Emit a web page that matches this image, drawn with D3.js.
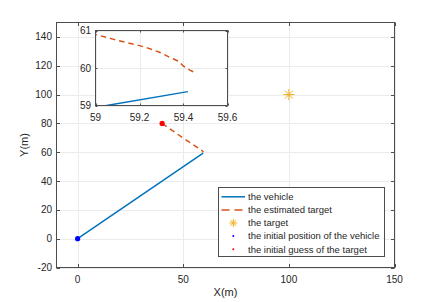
<!DOCTYPE html>
<html>
<head>
<meta charset="utf-8">
<script src="https://cdn.jsdelivr.net/npm/d3@7"></script>
<style>
  html, body { margin: 0; padding: 0; background: #fff; }
  svg text { font-family: "Liberation Sans", Arial, Helvetica, sans-serif; fill: #262626; }
</style>
</head>
<body>
<div id="chart"></div>
<script>
// data
const vehicleX = [0, 59.42];
const vehicleY = [0, 59.37];
const estX = [40, 49.5, 58.9, 59.079, 59.132, 59.192, 59.238, 59.291, 59.336, 59.382, 59.397, 59.427, 59.458];
const estY = [80, 70.3, 61.05, 60.77, 60.69, 60.61, 60.53, 60.42, 60.29, 60.17, 60.06, 59.95, 59.86];
const targetPos = [100, 100];
const vehicleStart = [0, 0];
const initialGuess = [40, 80];

const xTicks = [0, 50, 100, 150];
const yTicks = [-20, 0, 20, 40, 60, 80, 100, 120, 140];
const insetXTicks = [59, 59.2, 59.4, 59.6];
const insetYTicks = [59, 60, 61];
const legendLabels = ["the vehicle", "the estimated target", "the target",
  "the initial position of the vehicle", "the initial guess of the target"];

const W = 436, H = 302;
const blue = "#0072BD", orange = "#D95319", yellow = "#EDB120";
const gridCol = "#ebebeb", axCol = "#4d4d4d";

const svg = d3.select("#chart").append("svg").attr("width", W).attr("height", H);

// main axes
const x = d3.scaleLinear().domain([-10, 150]).range([56.5, 394.5]);
const y = d3.scaleLinear().domain([-20, 150]).range([267.5, 22.5]);

svg.append("g").selectAll("line").data(xTicks).join("line")
  .attr("x1", d => Math.round(x(d)) + 0.5).attr("x2", d => Math.round(x(d)) + 0.5)
  .attr("y1", y.range()[1]).attr("y2", y.range()[0])
  .attr("stroke", gridCol);
svg.append("g").selectAll("line").data(yTicks).join("line")
  .attr("y1", d => Math.round(y(d)) + 0.5).attr("y2", d => Math.round(y(d)) + 0.5)
  .attr("x1", x.range()[0]).attr("x2", x.range()[1])
  .attr("stroke", gridCol);

function drawAxes(g, sx, sy, xt, yt, fmt, tick) {
  const [x0, x1] = sx.range(), [y0, y1] = sy.range();
  g.append("rect").attr("x", x0).attr("y", y1).attr("width", x1 - x0).attr("height", y0 - y1)
    .attr("fill", "none").attr("stroke", axCol).attr("stroke-width", 1);
  xt.forEach(t => {
    const px = Math.round(sx(t)) + 0.5;
    g.append("line").attr("x1", px).attr("x2", px).attr("y1", y0).attr("y2", y0 - tick).attr("stroke", axCol);
    g.append("line").attr("x1", px).attr("x2", px).attr("y1", y1).attr("y2", y1 + tick).attr("stroke", axCol);
    g.append("text").attr("x", sx(t)).attr("y", y0 + 15.5).attr("text-anchor", "middle")
      .attr("font-size", "10px").text(fmt(t));
  });
  yt.forEach(t => {
    const py = Math.round(sy(t)) + 0.5;
    g.append("line").attr("y1", py).attr("y2", py).attr("x1", x0).attr("x2", x0 + tick).attr("stroke", axCol);
    g.append("line").attr("y1", py).attr("y2", py).attr("x1", x1).attr("x2", x1 - tick).attr("stroke", axCol);
    g.append("text").attr("x", x0 - 4.5).attr("y", sy(t)).attr("dy", "0.35em").attr("text-anchor", "end")
      .attr("font-size", "10px").text(fmt(t));
  });
}

const line = (sx, sy) => d3.line().x(d => sx(d[0])).y(d => sy(d[1]));
const vehiclePts = vehicleX.map((v, i) => [v, vehicleY[i]]);
const estPts = estX.map((v, i) => [v, estY[i]]);

function drawMarks(g, sx, sy, withMarkers) {
  g.append("path").attr("d", line(sx, sy)(vehiclePts)).attr("fill", "none")
    .attr("stroke", blue).attr("stroke-width", 1.5);
  g.append("path").attr("d", line(sx, sy)(estPts)).attr("fill", "none")
    .attr("stroke", orange).attr("stroke-width", 1.5).attr("stroke-dasharray", "5.5,4");
  if (!withMarkers) return;
  drawStar(g, sx(targetPos[0]), sy(targetPos[1]), 5.5);
  g.append("circle").attr("cx", sx(vehicleStart[0])).attr("cy", sy(vehicleStart[1])).attr("r", 2.6).attr("fill", "#0000ff");
  g.append("circle").attr("cx", sx(initialGuess[0])).attr("cy", sy(initialGuess[1])).attr("r", 2.6).attr("fill", "#ff0000");
}

function drawStar(g, cx, cy, r) {
  const d = r * 0.72;
  const segs = [[-r, 0, r, 0], [0, -r, 0, r], [-d, -d, d, d], [-d, d, d, -d]];
  g.append("g").selectAll("line").data(segs).join("line")
    .attr("x1", s => cx + s[0]).attr("y1", s => cy + s[1]).attr("x2", s => cx + s[2]).attr("y2", s => cy + s[3])
    .attr("stroke", yellow).attr("stroke-width", 1);
}

const clipMain = svg.append("clipPath").attr("id", "clipMain");
clipMain.append("rect").attr("x", x.range()[0]).attr("y", y.range()[1])
  .attr("width", x.range()[1] - x.range()[0]).attr("height", y.range()[0] - y.range()[1]);
drawMarks(svg.append("g").attr("clip-path", "url(#clipMain)"), x, y, true);
drawAxes(svg.append("g"), x, y, xTicks, yTicks, d => String(d), 3.5);

svg.append("text").attr("x", (x.range()[0] + x.range()[1]) / 2).attr("y", 296)
  .attr("text-anchor", "middle").attr("font-size", "11px").text("X(m)");
svg.append("text").attr("transform", `translate(28,${(y.range()[0] + y.range()[1]) / 2}) rotate(-90)`)
  .attr("text-anchor", "middle").attr("font-size", "11px").text("Y(m)");

// inset zoom
const ix = d3.scaleLinear().domain([59, 59.6]).range([95.5, 227.5]);
const iy = d3.scaleLinear().domain([59, 61]).range([105.5, 30.5]);
const inset = svg.append("g");
inset.append("rect").attr("x", ix.range()[0]).attr("y", iy.range()[1])
  .attr("width", ix.range()[1] - ix.range()[0]).attr("height", iy.range()[0] - iy.range()[1]).attr("fill", "#fff");
inset.append("g").selectAll("line").data(insetXTicks).join("line")
  .attr("x1", d => Math.round(ix(d)) + 0.5).attr("x2", d => Math.round(ix(d)) + 0.5)
  .attr("y1", iy.range()[1]).attr("y2", iy.range()[0]).attr("stroke", gridCol);
inset.append("g").selectAll("line").data(insetYTicks).join("line")
  .attr("y1", d => Math.round(iy(d)) + 0.5).attr("y2", d => Math.round(iy(d)) + 0.5)
  .attr("x1", ix.range()[0]).attr("x2", ix.range()[1]).attr("stroke", gridCol);
const clipIn = svg.append("clipPath").attr("id", "clipIn");
clipIn.append("rect").attr("x", ix.range()[0]).attr("y", iy.range()[1])
  .attr("width", ix.range()[1] - ix.range()[0]).attr("height", iy.range()[0] - iy.range()[1]);
drawMarks(inset.append("g").attr("clip-path", "url(#clipIn)"), ix, iy, false);
drawAxes(inset.append("g"), ix, iy, insetXTicks, insetYTicks, d => String(+d.toFixed(1)), 2);

// legend
const lg = svg.append("g");
const lx = 218.5, ly = 187.5, lw = 166, lh = 69;
lg.append("rect").attr("x", lx).attr("y", ly).attr("width", lw).attr("height", lh)
  .attr("fill", "#fff").attr("stroke", axCol);
legendLabels.forEach((lab, i) => {
  const cy = 196.8 + i * 13.1;
  if (i === 0) lg.append("line").attr("x1", 221.5).attr("x2", 245).attr("y1", cy).attr("y2", cy)
    .attr("stroke", blue).attr("stroke-width", 1.5);
  if (i === 1) lg.append("line").attr("x1", 221.5).attr("x2", 245).attr("y1", cy).attr("y2", cy)
    .attr("stroke", orange).attr("stroke-width", 1.5).attr("stroke-dasharray", "8,5");
  if (i === 2) drawStar(lg, 233.3, cy, 4);
  if (i === 3) lg.append("circle").attr("cx", 233.3).attr("cy", cy).attr("r", 1).attr("fill", "#0000ff");
  if (i === 4) lg.append("circle").attr("cx", 233.3).attr("cy", cy).attr("r", 1).attr("fill", "#ff0000");
  lg.append("text").attr("x", 248).attr("y", cy).attr("dy", "0.35em").attr("font-size", "9.5px").text(lab);
});
</script>
</body>
</html>
